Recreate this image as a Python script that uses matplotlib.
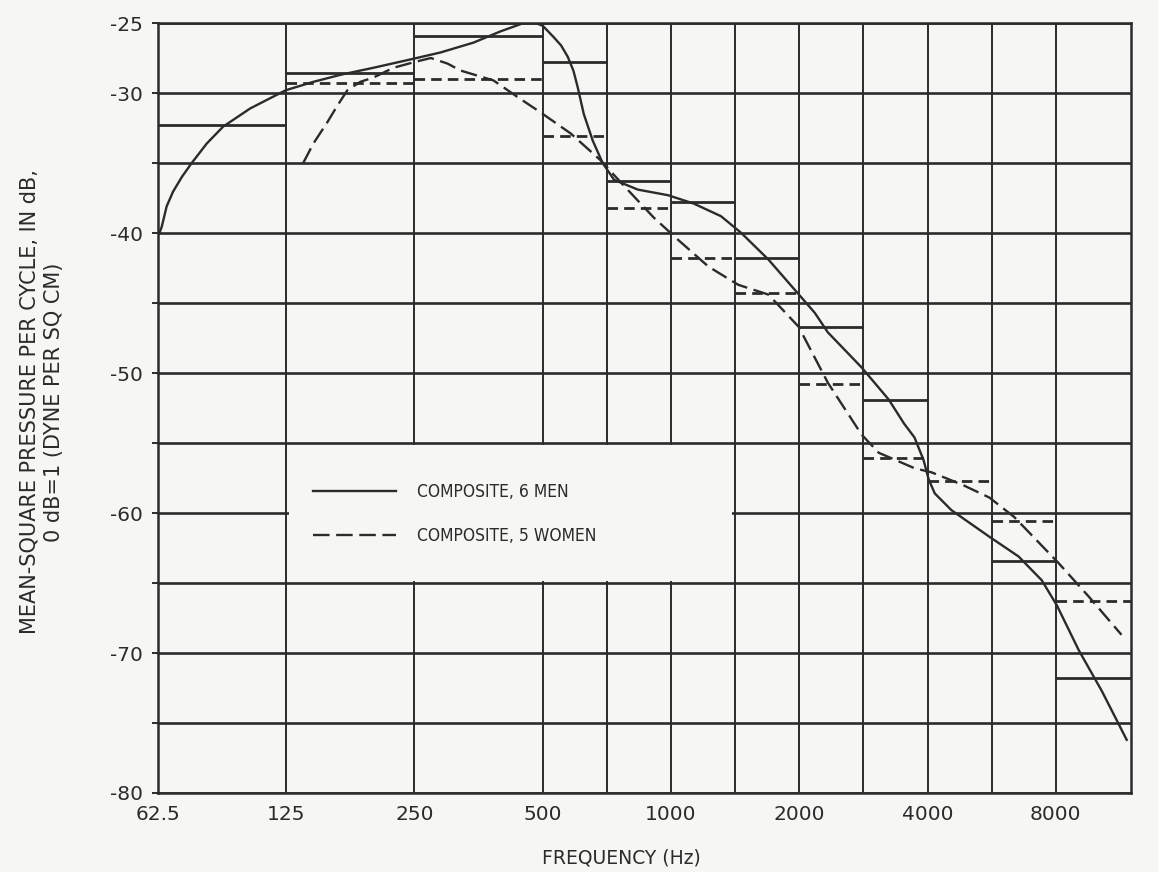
import numpy as np
import matplotlib
matplotlib.use("Agg")
import matplotlib.pyplot as plt
from matplotlib.patches import Rectangle
from matplotlib.ticker import NullFormatter

# band edges in Hz: octaves up to 500, half octaves above
band_edges = [62.5, 125, 250, 500, 707, 1000, 1414, 2000, 2828, 4000, 5657, 8000, 12000]
men_bands = [-32.3, -28.55, -25.9, -27.8, -36.3, -37.8, -41.8, -46.7, -51.9, np.nan, -63.4, -71.8]
women_bands = [np.nan, -29.3, -29.0, -33.1, -38.2, -41.8, -44.3, -50.8, -56.1, -57.7, -60.6, -66.3]

# continuous spectra
men_freq = [63, 63.8, 65.5, 67.8, 71.1, 75.0, 81.4, 88.9, 102.9, 124.7, 144.8, 167.5, 200,
            244.7, 288, 343.8, 397.6, 451, 481, 500, 530, 552, 572, 590, 604, 624, 655, 691,
            735, 791, 836, 984, 1131, 1310, 1462, 1693, 1983, 2174, 2334, 2800, 3243, 3520,
            3726, 3912, 4024, 4158, 4551, 5588, 6537, 7411, 8044, 9053, 10249, 11730]
men_db = [-40.0, -39.55, -38.1, -37.05, -36.0, -35.0, -33.6, -32.4, -31.1, -29.8, -29.2,
          -28.7, -28.2, -27.6, -27.1, -26.4, -25.6, -25.0, -25.0, -25.2, -26.0, -26.6,
          -27.4, -28.4, -29.6, -31.5, -33.4, -35.0, -36.2, -36.6, -36.9, -37.3, -37.9,
          -38.8, -40.0, -41.9, -44.3, -45.7, -47.1, -49.6, -51.9, -53.6, -54.6, -56.2,
          -57.6, -58.6, -59.8, -61.7, -63.1, -64.8, -66.6, -69.8, -72.7, -76.2]

women_freq = [137, 144.8, 156, 164.8, 174, 186.6, 200, 223, 249, 273, 299, 321, 383, 437,
              495, 582, 683, 763, 911, 1040, 1224, 1438, 1693, 1993, 2334, 2800, 3073,
              3726, 4090, 4840, 5588, 6395, 8131, 9575, 11405]
women_db = [-35.0, -33.6, -32.1, -30.9, -29.8, -29.2, -28.9, -28.2, -27.8, -27.5, -27.9,
            -28.4, -29.1, -30.3, -31.4, -32.9, -34.8, -36.4, -38.9, -40.5, -42.4, -43.7,
            -44.4, -46.7, -50.7, -54.4, -55.7, -56.8, -57.1, -58.0, -58.9, -60.3, -63.6,
            -66.0, -68.7]

xtick_freqs = [62.5, 125, 250, 500, 1000, 2000, 4000, 8000]
xtick_labels = ["62.5", "125", "250", "500", "1000", "2000", "4000", "8000"]
half_octave_lines = [707, 1414, 2828, 5657]
ytick_vals = list(range(-80, -24, 5))
ytick_labels = ["-80", "", "-70", "", "-60", "", "-50", "", "-40", "", "-30", "-25"]

ink = "#2b2b2b"
paper = "#f6f6f4"

plt.rcParams["font.family"] = ["DejaVu Sans"]

fig = plt.figure(figsize=(11.58, 8.72), dpi=100, facecolor=paper)
ax = fig.add_axes([0.1364, 0.0906, 0.8402, 0.883], facecolor=paper)
ax.set_xscale("log")
ax.set_xlim(62.5, 12000)
ax.set_ylim(-80, -25)

ax.set_xticks(xtick_freqs)
ax.set_xticklabels(xtick_labels)
ax.set_xticks(half_octave_lines, minor=True)
ax.xaxis.set_minor_formatter(NullFormatter())
ax.set_yticks(ytick_vals)
ax.set_yticklabels(ytick_labels)

ax.set_axisbelow(True)
ax.grid(axis="y", color=ink, lw=1.9)
ax.grid(axis="x", which="both", color=ink, lw=1.4)
for s in ax.spines.values():
    s.set_color(ink)
    s.set_linewidth(1.8)

ax.tick_params(axis="x", which="both", length=0, pad=9, labelsize=14.5, colors=ink)
ax.tick_params(axis="y", length=4, width=1.4, pad=7, labelsize=14.5, colors=ink)

# blank panel behind the legend
ax.add_patch(Rectangle((127, -64.85), 1390 - 127, 9.7, facecolor=paper,
                       edgecolor="none", zorder=1))

# band levels
lo = np.array(band_edges[:-1])
hi = np.array(band_edges[1:])
m = np.array(men_bands)
w = np.array(women_bands)
ok = ~np.isnan(m)
ax.hlines(m[ok], lo[ok], hi[ok], colors=ink, lw=2.0, zorder=2)
ok = ~np.isnan(w)
ax.hlines(w[ok], lo[ok], hi[ok], colors=ink, lw=2.0, linestyles=(0, (3.8, 2.2)), zorder=2)

ax.plot(men_freq, men_db, color=ink, lw=1.7, label="COMPOSITE, 6 MEN", zorder=3)
ax.plot(women_freq, women_db, color=ink, lw=1.7, ls=(0, (7, 2.8)),
        label="COMPOSITE, 5 WOMEN", zorder=3)

leg = ax.legend(loc="upper left", bbox_to_anchor=(0.143, 0.423), frameon=False,
                fontsize=12.5, handlelength=4.8, handletextpad=1.2, labelspacing=1.5,
                labelcolor=ink)
for t in leg.get_texts():
    t.set_fontstretch("condensed")

fig.text(0.036, 0.539, "MEAN-SQUARE PRESSURE PER CYCLE, IN dB,\n0 dB=1 (DYNE PER SQ CM)",
         rotation=90, ha="center", va="center", fontsize=15, color=ink,
         linespacing=1.25)
fig.text(0.537, 0.016, "FREQUENCY (Hz)", ha="center", va="center", fontsize=13.5,
         color=ink)

fig.savefig("out.png", dpi=100, facecolor=paper)
